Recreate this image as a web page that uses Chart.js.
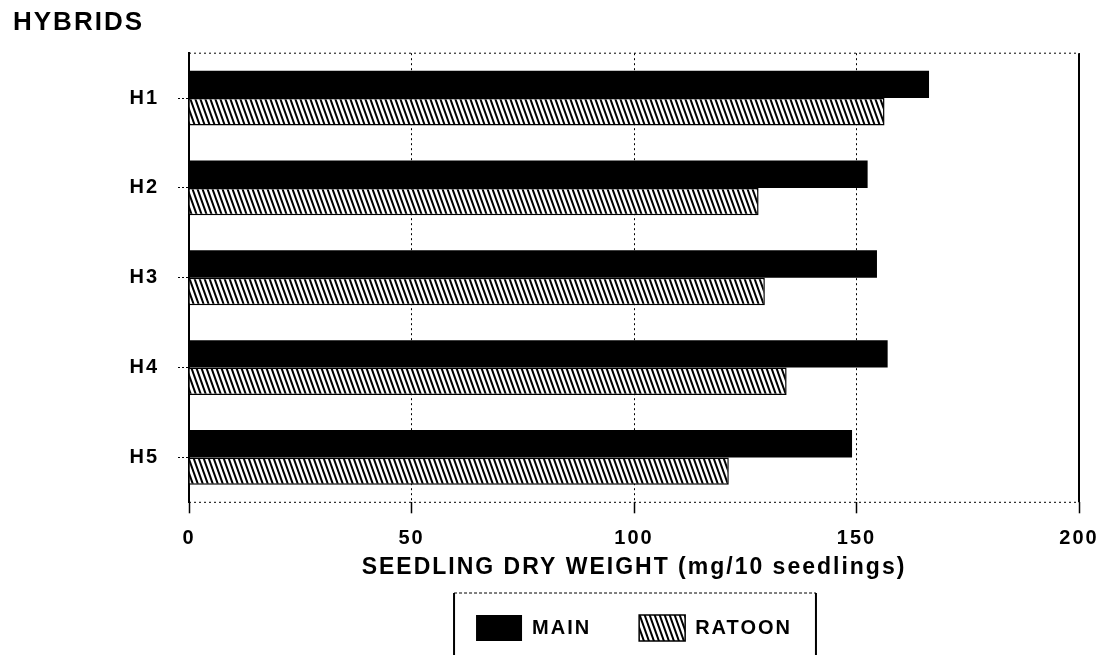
<!DOCTYPE html>
<html>
<head>
<meta charset="utf-8">
<title>Seedling dry weight - hybrids</title>
<script src="https://cdn.jsdelivr.net/npm/chart.js@4.4.0/dist/chart.umd.min.js"></script>
<style>
  body { margin: 0; background: #fff; }
  canvas { display: block; }
</style>
</head>
<body>
<canvas id="grafico" width="1109" height="655"></canvas>
<script>
// Values
const hybrids = ['H1', 'H2', 'H3', 'H4', 'H5'];
const mainValues = [166.3, 152.5, 154.6, 157.0, 149.0];
const ratoonValues = [156.3, 128.0, 129.4, 134.3, 121.3];
const xTicks = [0, 50, 100, 150, 200];

const FONT = "'Liberation Sans', Arial, sans-serif";

// Diagonal hatch used by the RATOON bars
function makeHatch() {
    const tile = document.createElement('canvas');
    tile.width = 5;
    tile.height = 14;
    const c = tile.getContext('2d');
    c.fillStyle = '#fff';
    c.fillRect(0, 0, 5, 14);
    c.strokeStyle = '#000';
    c.lineWidth = 2;
    for (let dx = -5; dx <= 5; dx += 5) {
        c.beginPath();
        c.moveTo(dx - 0.714, -2);
        c.lineTo(dx + 5.714, 16);
        c.stroke();
    }
    return c.createPattern(tile, 'repeat');
}

// Letter spacing like the old plotter lettering (reset each time the canvas is cleared)
const spacingPlugin = {
    id: 'spacing',
    beforeLayout(chart) {
        chart.ctx.letterSpacing = '2px';
    },
    beforeDraw(chart) {
        const ctx = chart.ctx;
        ctx.letterSpacing = '2px';
        ctx.save();
        ctx.fillStyle = '#fff';
        ctx.fillRect(0, 0, chart.width, chart.height);
        ctx.restore();
    }
};

// Frame around the plot and the box around the legend
const framePlugin = {
    id: 'frame',
    afterDraw(chart) {
        const ctx = chart.ctx;
        const a = chart.chartArea;
        ctx.save();
        ctx.strokeStyle = '#000';
        ctx.lineWidth = 1;
        ctx.setLineDash([2, 3]);
        ctx.beginPath();
        ctx.moveTo(a.left, a.top);
        ctx.lineTo(a.right, a.top);
        ctx.moveTo(a.left, a.bottom);
        ctx.lineTo(a.right, a.bottom);
        ctx.stroke();
        ctx.setLineDash([]);
        ctx.lineWidth = 2;
        ctx.beginPath();
        ctx.moveTo(a.right, a.top);
        ctx.lineTo(a.right, a.bottom);
        ctx.stroke();

        const boxes = chart.legend.legendHitBoxes;
        if (boxes && boxes.length) {
            const first = boxes[0];
            const last = boxes[boxes.length - 1];
            const left = first.left - 22;
            const right = last.left + last.width + 24;
            const top = first.top - 22;
            ctx.lineWidth = 1;
            ctx.setLineDash([3, 2]);
            ctx.beginPath();
            ctx.moveTo(left, top);
            ctx.lineTo(right, top);
            ctx.stroke();
            ctx.setLineDash([]);
            ctx.lineWidth = 2;
            ctx.beginPath();
            ctx.moveTo(left, top);
            ctx.lineTo(left, chart.height);
            ctx.moveTo(right, top);
            ctx.lineTo(right, chart.height);
            ctx.stroke();
        }
        ctx.restore();
    }
};

function initChart() {
    const ctx = document.getElementById('grafico').getContext('2d');
    new Chart(ctx, {
        type: 'bar',
        data: {
            labels: hybrids,
            datasets: [{
                label: 'MAIN',
                data: mainValues,
                backgroundColor: '#000',
                borderColor: '#000',
                borderWidth: 0
            }, {
                label: 'RATOON',
                data: ratoonValues,
                backgroundColor: makeHatch(),
                borderColor: '#000',
                borderWidth: 1.5
            }]
        },
        options: {
            indexAxis: 'y',
            responsive: false,
            animation: false,
            categoryPercentage: 0.61,
            barPercentage: 1,
            layout: {
                padding: { left: 13, right: 30, top: 0, bottom: 4 }
            },
            scales: {
                x: {
                    min: 0,
                    max: 200,
                    afterBuildTicks: scale => {
                        scale.ticks = xTicks.map(v => ({ value: v }));
                    },
                    grid: {
                        color: '#000',
                        lineWidth: 1,
                        tickLength: 11,
                        tickColor: '#000',
                        tickWidth: 1.5
                    },
                    border: { display: false, dash: [2, 3] },
                    ticks: {
                        padding: 13,
                        color: '#000',
                        font: { family: FONT, size: 20, weight: 'bold' }
                    },
                    title: {
                        display: true,
                        text: 'SEEDLING DRY WEIGHT (mg/10 seedlings)',
                        color: '#000',
                        font: { family: FONT, size: 23, weight: 'bold' },
                        padding: { top: 4, bottom: -14 }
                    },
                    afterFit: scale => {
                        scale.height = 64.7;
                        scale.paddingLeft = 0;
                        scale.paddingRight = 0;
                    }
                },
                y: {
                    grid: {
                        offset: false,
                        drawOnChartArea: false,
                        tickLength: 11,
                        tickColor: '#000',
                        tickWidth: 1,
                        tickBorderDash: [2, 2]
                    },
                    border: { display: true, color: '#000', width: 2 },
                    ticks: {
                        padding: 19,
                        color: '#000',
                        font: { family: FONT, size: 20, weight: 'bold' }
                    },
                    afterFit: scale => {
                        scale.width = 176;
                    }
                }
            },
            plugins: {
                title: {
                    display: true,
                    text: 'HYBRIDS',
                    align: 'start',
                    color: '#000',
                    font: { family: FONT, size: 26, weight: 'bold' },
                    padding: { top: 7, bottom: 15 }
                },
                legend: {
                    position: 'bottom',
                    fullSize: false,
                    labels: {
                        boxWidth: 46,
                        boxHeight: 26,
                        padding: 48,
                        color: '#000',
                        font: { family: FONT, size: 20, weight: 'bold' }
                    }
                },
                tooltip: { enabled: false }
            }
        },
        plugins: [spacingPlugin, framePlugin]
    });
}

document.addEventListener('DOMContentLoaded', initChart);
</script>
</body>
</html>
